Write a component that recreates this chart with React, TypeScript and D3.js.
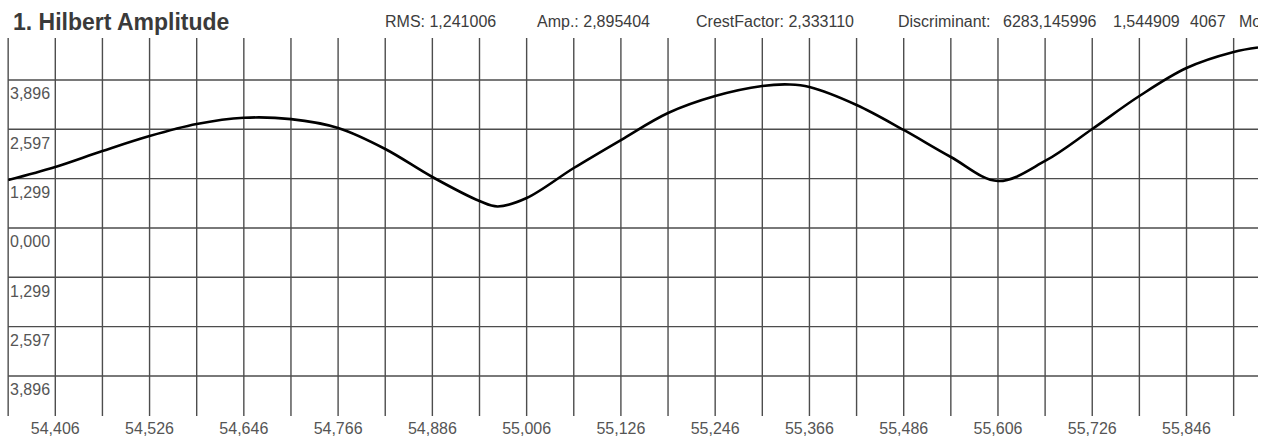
import React from "react";
import * as d3 from "d3";

const TITLE = "1. Hilbert Amplitude";
const headerTexts = ["RMS: 1,241006", "Amp.: 2,895404", "CrestFactor: 2,333110", "Discriminant:", "6283,145996", "1,544909", "4067", "Mode"];
const headerX = [385, 537, 696, 898, 1003, 1113, 1190, 1239];

const time = [54.346, 54.406, 54.466, 54.526, 54.586, 54.646, 54.706, 54.766, 54.826, 54.886, 54.946, 54.969, 55.006, 55.066, 55.126, 55.186, 55.246, 55.306, 55.341, 55.366, 55.426, 55.486, 55.546, 55.606, 55.666, 55.726, 55.786, 55.846, 55.906, 55.937];
const amplitude = [1.262, 1.605, 2.025, 2.42, 2.736, 2.9, 2.865, 2.631, 2.078, 1.341, 0.709, 0.565, 0.788, 1.578, 2.315, 3.026, 3.473, 3.737, 3.776, 3.71, 3.237, 2.579, 1.868, 1.236, 1.763, 2.605, 3.473, 4.21, 4.632, 4.75];

const yTicks = [3.896, 2.597, 1.299, 0, -1.299, -2.597, -3.896];
const xGrid = d3.range(27).map((k) => 54.346 + 0.06 * k);
const xLabelTicks = [54.406, 54.526, 54.646, 54.766, 54.886, 55.006, 55.126, 55.246, 55.366, 55.486, 55.606, 55.726, 55.846];

const W = 1274, H = 437;
const left = 8.16, right = 1258, top = 38, bottom = 416;

export default function App() {
  const x = d3.scaleLinear().domain([54.346, 55.937]).range([left, right]);
  const y = d3.scaleLinear().domain([-4.95, 5.0]).range([bottom, top]);
  const line = d3
    .line<number>()
    .x((_, i) => x(time[i]))
    .y((d) => y(d))
    .curve(d3.curveCatmullRom.alpha(0.5));
  const fmt = (v: number) => Math.abs(v).toFixed(3).replace(".", ",");
  const gridColor = "#4d4d4d";
  const font = "'Liberation Sans', Arial, sans-serif";
  return (
    <svg width={W} height={H} style={{ position: "absolute", left: 0, top: 0, background: "#fff" }} fontFamily={font}>
      <defs>
        <clipPath id="hdr">
          <rect x={0} y={0} width={right} height={H} />
        </clipPath>
        <clipPath id="plot">
          <rect x={left} y={top} width={right - left} height={bottom - top} />
        </clipPath>
      </defs>
      <rect width={W} height={H} fill="#fff" />
      <text x={13} y={30} fontSize={23} fontWeight="bold" fill="#3a3a3a">{TITLE}</text>
      <g clipPath="url(#hdr)">
        {headerTexts.map((t, i) => (
          <text key={i} x={headerX[i]} y={26.5} fontSize={16} fill="#3c3c3c">{t}</text>
        ))}
      </g>
      {xGrid.map((t, i) => (
        <line key={"vx" + i} x1={x(t)} x2={x(t)} y1={top} y2={bottom} stroke={gridColor} strokeWidth={1.4} />
      ))}
      {yTicks.map((v, i) => (
        <line key={"hy" + i} x1={left} x2={right} y1={y(v)} y2={y(v)} stroke={gridColor} strokeWidth={1.4} />
      ))}
      {yTicks.map((v, i) => (
        <text key={"ly" + i} x={10} y={y(v) + 19.5} fontSize={16} fill="#555">{fmt(v)}</text>
      ))}
      {xLabelTicks.map((t, i) => (
        <text key={"lx" + i} x={x(t)} y={434} fontSize={16} fill="#555" textAnchor="middle">{t.toFixed(3).replace(".", ",")}</text>
      ))}
      <path d={line(amplitude) || ""} fill="none" stroke="#000" strokeWidth={2.6} clipPath="url(#plot)" />
    </svg>
  );
}
